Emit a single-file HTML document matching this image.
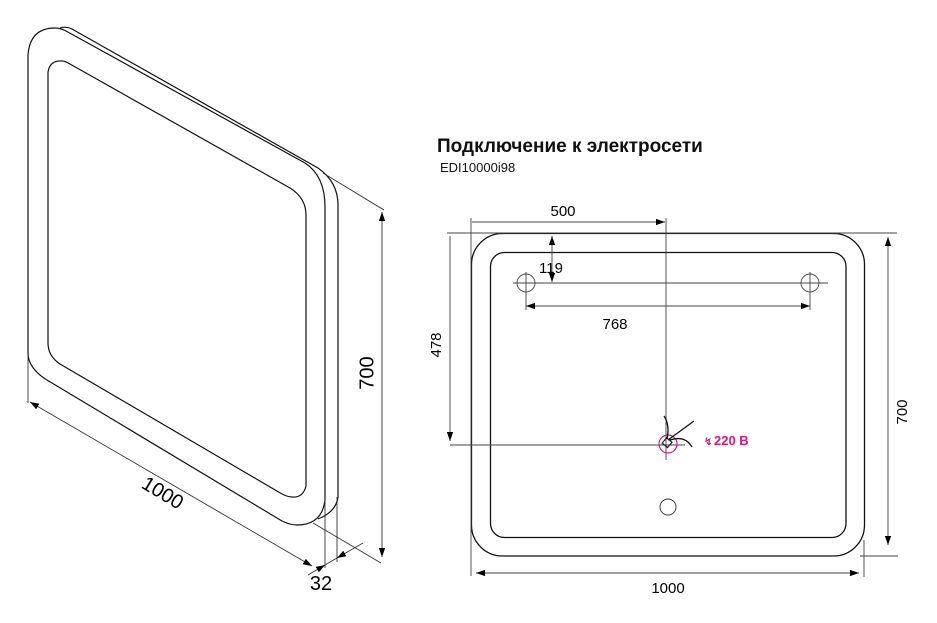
<!DOCTYPE html>
<html><head><meta charset="utf-8"><style>
html,body{margin:0;padding:0;background:#fff}
svg{display:block}
text{font-family:"Liberation Sans",sans-serif}
</style></head><body>
<svg width="937" height="623" viewBox="0 0 937 623" xmlns="http://www.w3.org/2000/svg">
<defs>
<marker id="a" viewBox="0 0 10 10" refX="10" refY="5" markerWidth="9" markerHeight="9" orient="auto-start-reverse" markerUnits="userSpaceOnUse"><path d="M0,1.5 L10,5 L0,8.5 z" fill="#000"/></marker>
</defs>
<g fill="none" stroke="#111" stroke-width="1.2">
<path d="M60,28 Q66,26 72,29 L318,168 Q338,182 338,205 L338,497 Q336,512 318,519"/>
<path d="M28,353 L28,55 Q30,28 55,28 Q60,28 66,31 L305,163 Q325,176 325,207 L325,500 Q322,525 297,525 Q290,525 282,521 L52,383 Q28,370 28,353 Z"/>
<path d="M48,343 L48,72 Q50,60 62,61 Q65,61 70,64 L290,188 Q306,198 306,215 L306,486 Q303,498 292,497 Q288,497 282,494 L60,364 Q48,356 48,343 Z"/>
</g>
<g stroke="#333" stroke-width="0.9" fill="none">
<line x1="323" y1="173" x2="384" y2="210"/>
<line x1="313" y1="523" x2="381" y2="563"/>
<line x1="28" y1="355" x2="28" y2="403"/>
<line x1="325" y1="500" x2="325" y2="568"/>
<line x1="337" y1="497" x2="337" y2="562"/>
<line x1="382" y1="212" x2="382" y2="557" marker-start="url(#a)" marker-end="url(#a)"/>
<line x1="30" y1="402" x2="312" y2="566" marker-start="url(#a)" marker-end="url(#a)"/>
<line x1="308" y1="575" x2="325" y2="565" marker-end="url(#a)"/>
<line x1="363" y1="543" x2="337" y2="558" marker-end="url(#a)"/>
<line x1="325" y1="565" x2="337" y2="558"/>
</g>
<text x="368" y="373" font-size="20" text-anchor="middle" transform="rotate(-90 368 373)" dominant-baseline="middle">700</text>
<text x="162" y="494" font-size="20" text-anchor="middle" transform="rotate(31 162 494)" dominant-baseline="middle">1000</text>
<text x="321" y="590" font-size="20" text-anchor="middle">32</text>

<text x="437" y="152" font-size="19" font-weight="bold" fill="#111">Подключение к электросети</text>
<text x="440" y="172" font-size="13" fill="#111">EDI10000i98</text>

<g fill="none" stroke="#111" stroke-width="1.3">
<rect x="471.5" y="233.5" width="393" height="322.5" rx="31"/>
<rect x="490.5" y="252.5" width="355.5" height="285" rx="14"/>
</g>
<g stroke="#444" stroke-width="0.9" fill="none">
<circle cx="526" cy="283" r="9"/>
<circle cx="810" cy="283" r="9"/>
<line x1="513" y1="283" x2="828" y2="283"/>
<line x1="526" y1="272" x2="526" y2="310"/>
<line x1="810" y1="272" x2="810" y2="310"/>
<line x1="526" y1="306" x2="810" y2="306" marker-start="url(#a)" marker-end="url(#a)"/>
<line x1="552" y1="236" x2="552" y2="282" marker-start="url(#a)" marker-end="url(#a)"/>
<line x1="472" y1="222" x2="665" y2="222" marker-end="url(#a)"/>
<line x1="471" y1="218" x2="471" y2="576"/>
<line x1="666" y1="218" x2="666" y2="460"/>
<line x1="447" y1="233" x2="897" y2="233"/>
<line x1="450" y1="445" x2="685" y2="445"/>
<line x1="450" y1="236" x2="450" y2="441" marker-end="url(#a)"/>
<line x1="860" y1="556" x2="898" y2="556"/>
<line x1="864" y1="540" x2="864" y2="577"/>
<line x1="888" y1="237" x2="888" y2="545" marker-start="url(#a)" marker-end="url(#a)"/>
<line x1="476" y1="573" x2="859" y2="573" marker-start="url(#a)" marker-end="url(#a)"/>
<circle cx="668" cy="507" r="8" stroke="#333"/>
</g>
<circle cx="668" cy="444" r="9" fill="none" stroke="#e0157a" stroke-width="1.2"/>
<rect x="664" y="439" width="7" height="7" fill="none" stroke="#222" stroke-width="1.2" transform="rotate(40 667 442)"/>
<g fill="none" stroke="#111" stroke-width="1.3">
<path d="M667,439 Q670,425 664,416"/>
<path d="M668,440 L694,421"/>
<path d="M670,440 Q685,435 692,447"/>
</g>
<text x="714" y="445" font-size="13" font-weight="bold" fill="#e0157a">220 B</text>
<text x="704" y="445" font-size="10" font-weight="bold" fill="#e0157a">↯</text>
<text x="563" y="216" font-size="15" text-anchor="middle">500</text>
<text x="551" y="273" font-size="15" text-anchor="middle">119</text>
<text x="615" y="329" font-size="15" text-anchor="middle">768</text>
<text x="437" y="345" font-size="15" text-anchor="middle" transform="rotate(-90 437 345)" dominant-baseline="middle">478</text>
<text x="903" y="412" font-size="15" text-anchor="middle" transform="rotate(-90 903 412)" dominant-baseline="middle">700</text>
<text x="668" y="593" font-size="15" text-anchor="middle">1000</text>
</svg>
</body></html>
